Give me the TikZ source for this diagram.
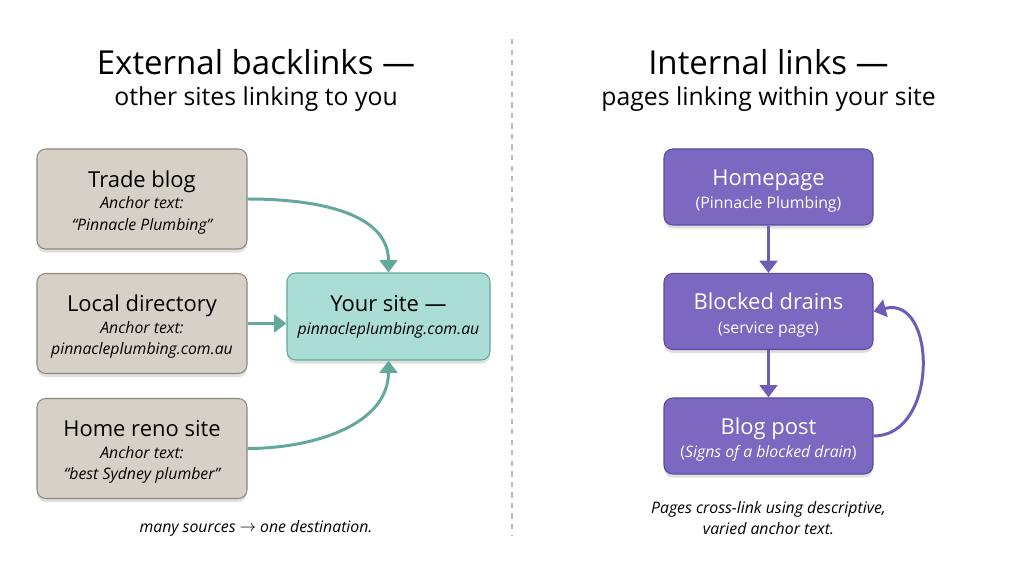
\documentclass[tikz,border=0pt]{standalone}
\usepackage{fontspec}
\setmainfont{Open Sans}
\usepackage{xcolor}
\usepackage{tikz}
\usetikzlibrary{arrows.meta,shadows}
\definecolor{srcfill}{HTML}{D7D0C6}
\definecolor{srcdraw}{HTML}{8E877D}
\definecolor{sitefill}{HTML}{A9DDD5}
\definecolor{sitedraw}{HTML}{62A99D}
\definecolor{tealarrow}{HTML}{62A99D}
\definecolor{pagefill}{HTML}{7A68C1}
\definecolor{pagedraw}{HTML}{5A4AA0}
\definecolor{purplearrow}{HTML}{6E5CB8}
\newcommand{\toppad}{\rule{0pt}{13.5pt}}

\begin{document}
\begin{tikzpicture}[
  >=Triangle,
  % ---- node styles ----
  srcbox/.style={
    draw=srcdraw, fill=srcfill, rounded corners=5pt, line width=0.6pt,
    minimum width=4.2cm, minimum height=2.0cm,
    align=center, inner sep=3pt,
    drop shadow={shadow xshift=0pt, shadow yshift=-2pt, opacity=0.25}
  },
  sitebox/.style={
    draw=sitedraw, fill=sitefill, rounded corners=5pt, line width=0.6pt,
    minimum width=4.06cm, minimum height=1.74cm,
    align=center, inner sep=3pt,
    drop shadow={shadow xshift=0pt, shadow yshift=-2pt, opacity=0.25}
  },
  pagebox/.style={
    draw=pagedraw, fill=pagefill, rounded corners=5pt, line width=0.6pt,
    minimum width=4.18cm, minimum height=1.52cm,
    align=center, inner sep=3pt, text=white,
    drop shadow={shadow xshift=0pt, shadow yshift=-2pt, opacity=0.25}
  },
  tealink/.style={line width=1.7pt, tealarrow, arrows={-Triangle[length=7pt,width=10pt]}},
  purplelink/.style={line width=1.7pt, purplearrow, arrows={-Triangle[length=7pt,width=10pt]}},
]

\useasboundingbox (0,0) rectangle (20.48,-11.44);

% ---- Titles ----
\node[font=\fontsize{18.8}{22}\selectfont] (ttlext) at (5.12,-1.24) {External backlinks ---};
\node[font=\fontsize{14.1}{16}\selectfont] (subext) at (5.12,-1.98) {other sites linking to you};
\node[font=\fontsize{18.8}{22}\selectfont] (ttlint) at (15.37,-1.24) {Internal links ---};
\node[font=\fontsize{14.1}{16}\selectfont] (subint) at (15.37,-1.98) {pages linking within your site};

% ---- Divider ----
\draw[dashed, gray!55, line width=0.6pt] (10.24,-0.78) -- (10.24,-10.72);

% ---- External sources ----
\node[srcbox] (trade) at (2.84,-3.98) {%
  {\fontsize{12.5}{14}\selectfont\toppad Trade blog}\\[0pt]
  {\fontsize{9}{11}\selectfont\itshape Anchor text:}\\[0.5pt]
  {\fontsize{9}{11}\selectfont\itshape ``Pinnacle Plumbing''}};
\node[srcbox] (local) at (2.84,-6.47) {%
  {\fontsize{12.5}{14}\selectfont\toppad Local directory}\\[0pt]
  {\fontsize{9}{11}\selectfont\itshape Anchor text:}\\[0.5pt]
  {\fontsize{9}{11}\selectfont\itshape pinnacleplumbing.com.au}};
\node[srcbox] (reno) at (2.84,-8.97) {%
  {\fontsize{12.5}{14}\selectfont\toppad Home reno site}\\[0pt]
  {\fontsize{9}{11}\selectfont\itshape Anchor text:}\\[0.5pt]
  {\fontsize{9}{11}\selectfont\itshape ``best Sydney plumber''}};

% ---- Destination ----
\node[sitebox] (site) at (7.77,-6.33) {%
  {\fontsize{12.5}{14}\selectfont Your site ---}\\[1pt]
  {\fontsize{9}{11}\selectfont\itshape pinnacleplumbing.com.au}};

% ---- Backlink arrows (teal) ----
\draw[tealink] (trade.east) to[out=0, in=90] (site.north);
\draw[tealink] (local.east) -- (local.east -| site.west);
\draw[tealink] (reno.east) to[out=0, in=-90] (site.south);

\node[font=\fontsize{9}{11}\selectfont\itshape] (noteext) at (5.12,-10.56)
  {many sources \raisebox{0.5pt}{$\rightarrow$} one destination.};

% ---- Internal pages ----
\node[pagebox] (home) at (15.37,-3.74) {%
  {\fontsize{12.5}{14}\selectfont\toppad Homepage}\\[1.5pt]
  {\fontsize{9}{11}\selectfont (Pinnacle Plumbing)}};
\node[pagebox] (drains) at (15.37,-6.23) {%
  {\fontsize{12.5}{14}\selectfont\toppad Blocked drains}\\[1.5pt]
  {\fontsize{9}{11}\selectfont (service page)}};
\node[pagebox] (post) at (15.37,-8.72) {%
  {\fontsize{12.5}{14}\selectfont\toppad Blog post}\\[1.5pt]
  {\fontsize{9}{11}\selectfont (\textit{Signs of a blocked drain})}};

% ---- Internal link arrows (purple) ----
\draw[purplelink] (home.south) -- (drains.north);
\draw[purplelink] (drains.south) -- (post.north);
\draw[purplelink] (post.east) to[out=0, in=15, looseness=1.35] (drains.east);

\node[font=\fontsize{9}{12}\selectfont\itshape, align=center] (noteint) at (15.37,-10.36)
  {Pages cross-link using descriptive,\\ varied anchor text.};

\end{tikzpicture}
\end{document}
